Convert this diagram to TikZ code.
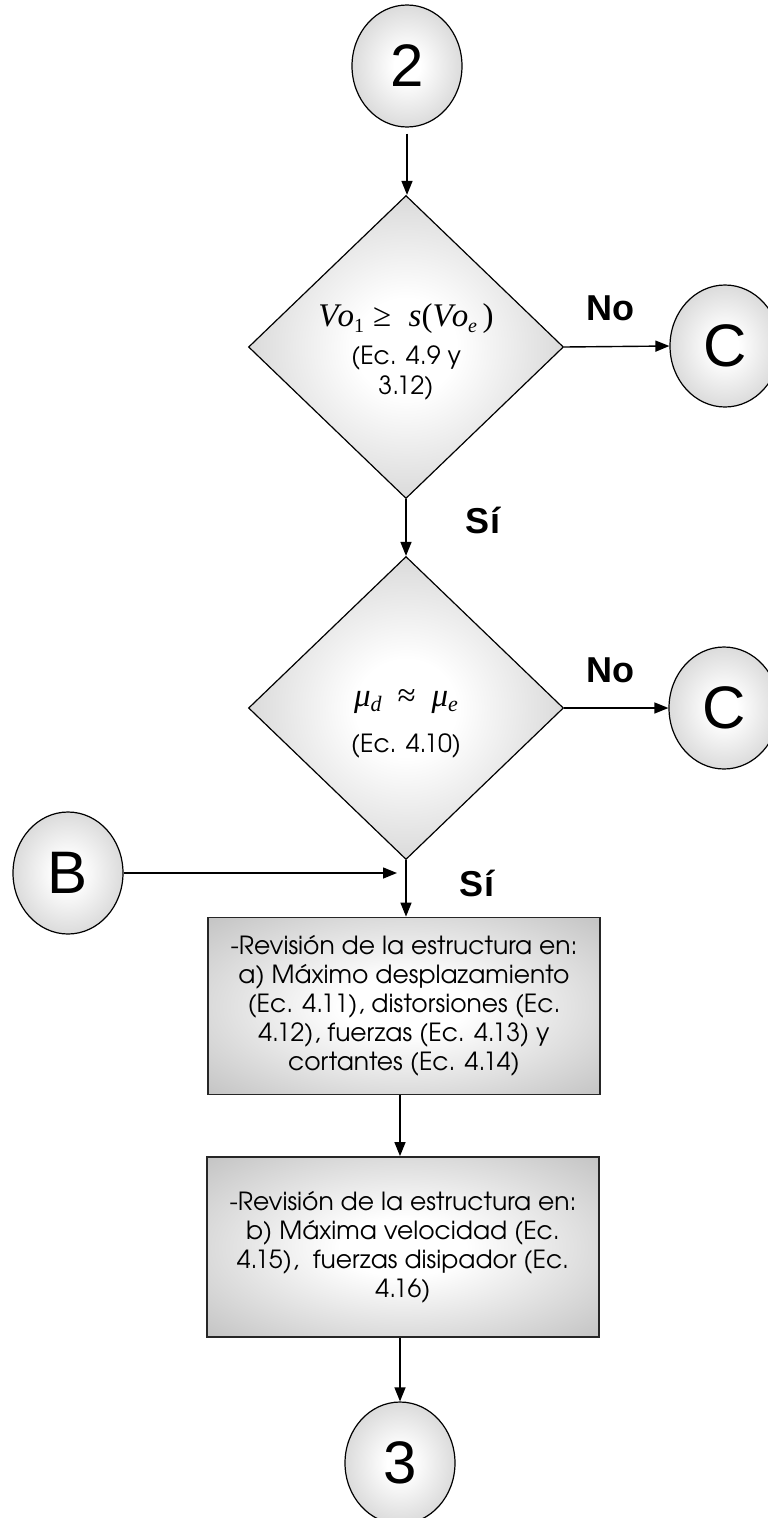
\documentclass[tikz,border=0pt]{standalone}
\usepackage{fontspec}
\setmainfont{TeX Gyre Adventor}
\newfontfamily\arialf{Liberation Sans}
\newfontfamily\timesf{Liberation Serif}
\usetikzlibrary{shapes.geometric,arrows.meta}
\pgfdeclareradialshading{softcircle}{\pgfpoint{0bp}{0bp}}{color(0bp)=(white); color(6bp)=(white); color(48bp)=(black!31); color(50bp)=(black!31)}
\pgfdeclareradialshading{softbox}{\pgfpoint{0bp}{0bp}}{color(0bp)=(white); color(8bp)=(white); color(40bp)=(black!27); color(50bp)=(black!28)}
\newcommand{\vocond}{{\timesf\fontsize{33}{33}\selectfont\itshape V\kern-1pt o\raisebox{-6pt}{\fontsize{20}{20}\selectfont\upshape 1}\;\upshape ≥\; \itshape s\upshape(\itshape V\kern-1pt o\raisebox{-6pt}{\fontsize{20}{20}\selectfont e}\,\upshape)}}
\newcommand{\mucond}{{\timesf\fontsize{33}{33}\selectfont\itshape μ\raisebox{-5pt}{\fontsize{22}{22}\selectfont d}\hspace{16pt}\upshape ≈\hspace{16pt}\itshape μ\raisebox{-5pt}{\fontsize{22}{22}\selectfont e}}}
\tikzset{
  connector/.style={ellipse, draw=black, line width=1.2pt, minimum width=110pt, minimum height=122pt, inner sep=0pt,
    shading=softcircle, font=\arialf\fontsize{60}{60}\selectfont},
  decision/.style={diamond, draw=black, line width=1.2pt, minimum width=315pt, minimum height=303pt, inner sep=0pt, aspect=1,
    shading=softbox},
  process/.style={rectangle, draw=black!85, line width=1.8pt, minimum width=392pt, inner sep=0pt,
    shading=softbox, align=center, font=\fontsize{25}{29}\selectfont},
  dtext/.style={align=center, font=\fontsize{25}{30}\selectfont},
  arr/.style={line width=1.4pt, -{Triangle[length=14pt,width=11pt]}},
  lbl/.style={font=\arialf\bfseries\fontsize{36}{36}\selectfont}
}
\begin{document}
\begin{tikzpicture}[x=1pt,y=-1pt]
\useasboundingbox (0,0) rectangle (768,1518);
\node[connector] (c2) at (407,66) {2};
\node[decision] (d1) at (406,347) {};
\node[dtext] (d1t) at (406,352) {\vocond\\[8pt](Ec. 4.9 y\\3.12)};
\node[connector] (C1) at (725,346) {C};
\node[decision] (d2) at (406,708) {};
\node[dtext] (d2t) at (406,724) {\mucond\\[16pt](Ec. 4.10)};
\node[connector] (C2) at (724,708) {C};
\node[connector] (B) at (68,873) {B};
\node[process, minimum height=177pt] (p1) at (404,1006) {-Revisión de la estructura en:\\a) Máximo desplazamiento\\(Ec. 4.11), distorsiones (Ec.\\4.12), fuerzas (Ec. 4.13) y\\cortantes (Ec. 4.14)};
\node[process, minimum height=180pt] (p2) at (403,1247) {-Revisión de la estructura en:\\b) Máxima velocidad (Ec.\\4.15),~ fuerzas disipador (Ec.\\4.16)};
\node[connector] (c3) at (400,1463) {3};
\node[lbl] (no1) at (610,308) {No};
\node[lbl] (si1) at (483,520) {Sí};
\node[lbl] (no2) at (610,670) {No};
\node[lbl] (si2) at (477,883) {Sí};
\coordinate (j) at (d2.south |- B.east);
\draw[arr, shorten <=6pt] (c2.south) -- (c2.south |- d1.north);
\draw[arr] (d1.east) -- (C1.west);
\draw[arr] (d1.south) -- (d2.north);
\draw[arr] (d2.east) -- (C2.west);
\draw[arr] (d2.south) -- (d2.south |- p1.north);
\draw[arr, shorten >=9pt] (B.east) -- (j);
\draw[arr] (p1.south -| c3.north) -- (p2.north -| c3.north);
\draw[arr] (p2.south -| c3.north) -- (c3.north);
\end{tikzpicture}
\end{document}
